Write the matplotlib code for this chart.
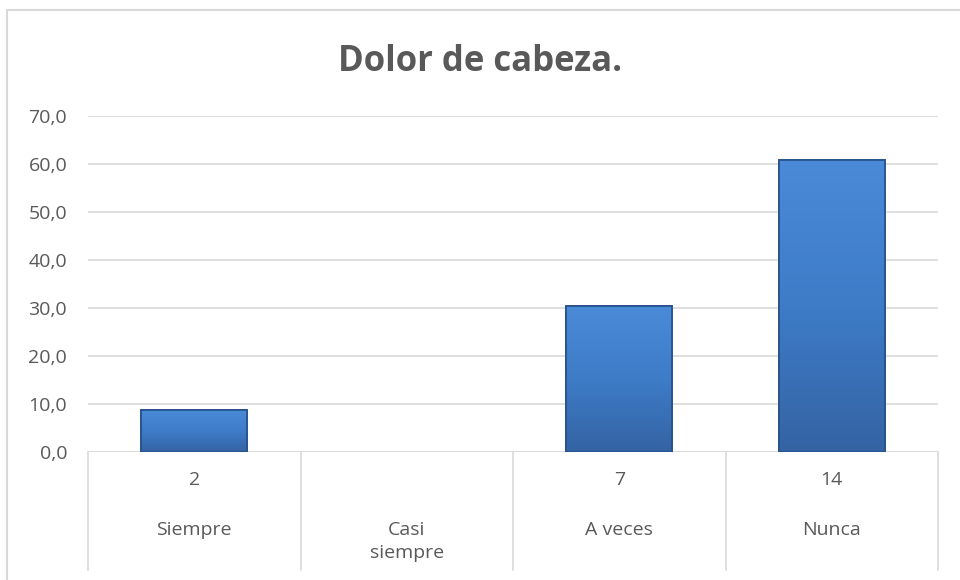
import numpy as np
import matplotlib.pyplot as plt
from matplotlib.patches import Rectangle
from matplotlib.lines import Line2D
from matplotlib.colors import LinearSegmentedColormap

categories = ['Siempre', 'Casi\nsiempre', 'A veces', 'Nunca']
counts = ['2', '', '7', '14']
percent = [8.7, 0.0, 30.4, 60.9]
yticks = [0, 10, 20, 30, 40, 50, 60, 70]

txt = '#595959'
grid = '#D9D9D9'
plt.rcParams['font.family'] = ['Open Sans', 'DejaVu Sans']

fig = plt.figure(figsize=(9.6, 5.8), dpi=100)

# outer chart border (right/bottom fall outside the picture)
fig.patches.append(Rectangle((7 / 960, -0.1), 1.2, 1 - 10 / 580 + 0.1,
                             transform=fig.transFigure, fill=False,
                             edgecolor=grid, linewidth=1.5))

ax = fig.add_axes([88 / 960, 128 / 580, 850 / 960, 336 / 580])
x = list(range(len(categories)))
bars = ax.bar(x, percent, width=0.5, color='#3B78C4',
              edgecolor=['#25508A' if v > 0 else 'none' for v in percent],
              linewidth=1.2, zorder=3)

# soft vertical gradient inside each bar
cmap = LinearSegmentedColormap.from_list('b', ['#3463A3', '#3E7CC8', '#4A8AD6'])
grad = np.linspace(0, 1, 256).reshape(-1, 1)
for b in bars:
    if b.get_height() <= 0:
        continue
    im = ax.imshow(grad, cmap=cmap, origin='lower', aspect='auto',
                   extent=[b.get_x(), b.get_x() + b.get_width(), 0, b.get_height()],
                   zorder=3.5)
    im.set_clip_path(b)
    ax.add_patch(Rectangle((b.get_x(), 0), b.get_width(), b.get_height(),
                           fill=False, edgecolor='#25508A', linewidth=1.2,
                           zorder=4))

ax.set_xlim(-0.5, len(categories) - 0.5)
ax.set_ylim(0, 70)
ax.set_yticks(yticks)
ax.set_yticklabels([f'{v:.1f}'.replace('.', ',') for v in yticks],
                   color=txt, fontsize=14)
ax.tick_params(axis='y', length=0, pad=15)
ax.set_xticks([])
ax.grid(axis='y', color=grid, linewidth=1.2, zorder=0)
for s in ax.spines.values():
    s.set_visible(False)
ax.axhline(0, color=grid, linewidth=1.2, zorder=2)

# multi-level category axis
trans = ax.get_xaxis_transform()
for i in range(len(categories) + 1):
    ax.add_line(Line2D([i - 0.5, i - 0.5], [0, -0.35], transform=trans,
                       color=grid, linewidth=1.2, clip_on=False))
for i, (c, n) in enumerate(zip(categories, counts)):
    ax.text(i, -0.083, n, transform=trans, ha='center', va='center',
            color=txt, fontsize=14)
    ax.text(i, -0.205, c, transform=trans, ha='center', va='top',
            color=txt, fontsize=14, linespacing=1.35)

fig.text(0.5, 1 - 62 / 580, 'Dolor de cabeza.', ha='center', va='center',
         fontsize=25, fontweight='bold', color=txt)

fig.savefig('out.png', dpi=100)
